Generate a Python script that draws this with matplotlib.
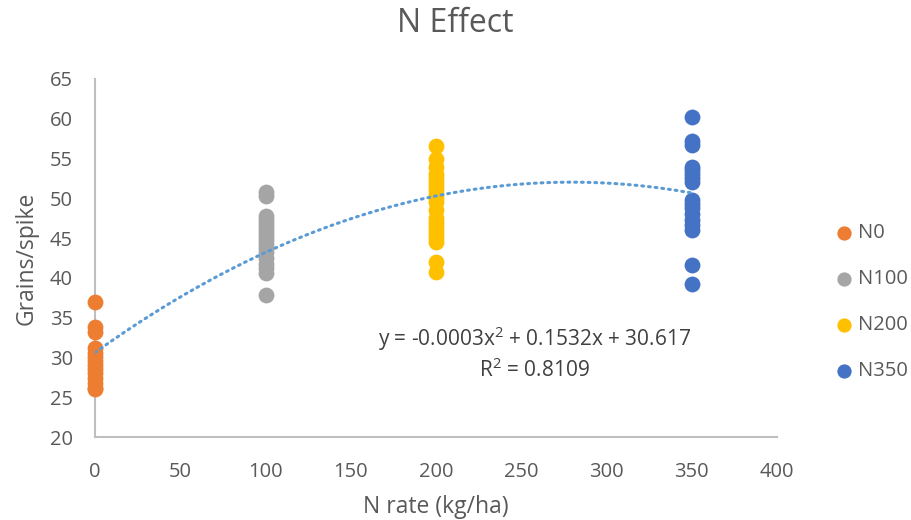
import numpy as np
import matplotlib
matplotlib.use("Agg")
from matplotlib import pyplot as plt

# grains per spike for each N rate
n0_x = 0
n0_y = [37.0, 33.8, 33.2, 31.2, 30.6, 30.0, 29.5, 29.0, 28.5, 28.0, 27.4, 26.8, 26.2, 26.0]
n100_x = 100
n100_y = [50.8, 50.3, 47.8, 47.3, 46.8, 46.3, 45.8, 45.3, 44.8, 44.3, 43.8, 43.3,
          42.5, 41.8, 41.2, 40.6, 37.8]
n200_x = 200
n200_y = [56.6, 55.0, 54.0, 53.0, 52.5, 52.0, 51.5, 51.0, 50.5, 50.0, 49.5, 48.5,
          47.5, 47.0, 46.5, 46.0, 45.5, 45.0, 44.5, 42.0, 40.8]
n350_x = 350
n350_y = [60.2, 57.2, 56.7, 54.0, 53.5, 53.0, 52.5, 52.0, 49.8, 49.3, 48.8, 48.0,
          47.3, 46.7, 46.0, 41.6, 39.2]

# polynomial trendline (order 2) coefficients
trend_coef = [-0.000274, 0.1532, 30.617]
eq_text = "y = -0.0003x$^{2}$ + 0.1532x + 30.617"
r2_text = "R$^{2}$ = 0.8109"

plt.rcParams["font.family"] = ["Open Sans", "DejaVu Sans"]
plt.rcParams["mathtext.fontset"] = "custom"
plt.rcParams["mathtext.rm"] = "Open Sans"

grey_txt = "#595959"
axis_col = "#bfbfbf"

fig = plt.figure(figsize=(9.11, 5.2), dpi=100)
ax = fig.add_axes([0.1043, 0.1596, 0.7486, 0.6885])

ms = 130
ax.scatter([n0_x] * len(n0_y), n0_y, s=ms, color="#ed7d31", label="N0", zorder=3, linewidths=0, clip_on=False)
ax.scatter([n100_x] * len(n100_y), n100_y, s=ms, color="#a5a5a5", label="N100", zorder=3, linewidths=0)
ax.scatter([n200_x] * len(n200_y), n200_y, s=ms, color="#ffc000", label="N200", zorder=3, linewidths=0)
ax.scatter([n350_x] * len(n350_y), n350_y, s=ms, color="#4472c4", label="N350", zorder=3, linewidths=0)

xs = np.linspace(0, 350, 200)
ax.plot(xs, np.polyval(trend_coef, xs), color="#5b9bd5", lw=2.2,
        linestyle=(0, (0.6, 1.6)), dash_capstyle="round", zorder=4)

ax.text(258, 32.3, eq_text, ha="center", va="center", fontsize=15, color="#404040")
ax.text(258, 28.4, r2_text, ha="center", va="center", fontsize=15, color="#404040")

ax.set_xlim(0, 400)
ax.set_ylim(20, 65)
ax.set_xticks(range(0, 401, 50))
ax.set_yticks(range(20, 66, 5))
ax.tick_params(length=0, labelsize=14.5, colors=grey_txt)
ax.tick_params(axis="y", pad=16)
ax.tick_params(axis="x", pad=18)
for side in ["top", "right"]:
    ax.spines[side].set_visible(False)
for side in ["left", "bottom"]:
    ax.spines[side].set_color(axis_col)
    ax.spines[side].set_linewidth(1.5)

ax.set_xlabel("N rate (kg/ha)", fontsize=16.5, color=grey_txt, labelpad=9)
ax.set_ylabel("Grains/spike", fontsize=16.5, color=grey_txt, labelpad=8)
fig.text(0.5, 0.955, "N Effect", ha="center", va="center", fontsize=23, color=grey_txt)

leg = ax.legend(loc="center left", bbox_to_anchor=(0.907, 0.419), bbox_transform=fig.transFigure,
                frameon=False, fontsize=14.5, labelspacing=1.3, handlelength=0.8,
                handletextpad=0.3, borderpad=0, markerscale=0.9)
for t in leg.get_texts():
    t.set_color(grey_txt)

fig.savefig("out.png", dpi=100)
